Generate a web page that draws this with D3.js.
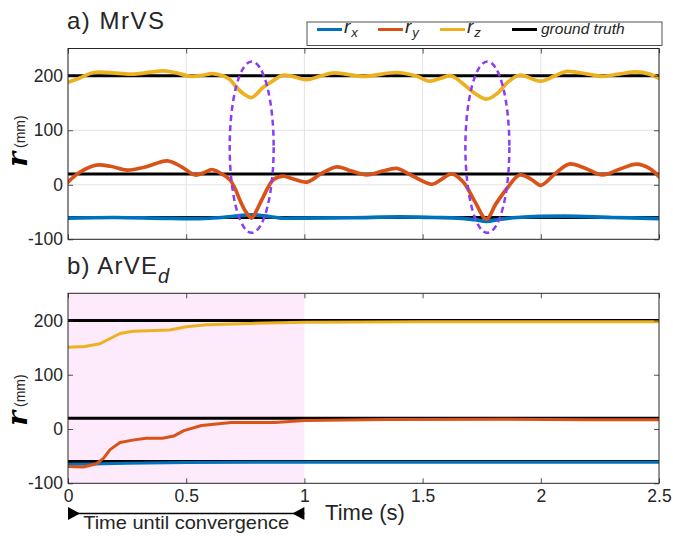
<!DOCTYPE html>
<html>
<head>
<meta charset="utf-8">
<script src="https://cdn.jsdelivr.net/npm/d3@7"></script>
<style>
  body { margin: 0; background: #fff; }
  text { font-family: "Liberation Sans", Arial, Helvetica, sans-serif; fill: #262626; }
</style>
</head>
<body>
<svg id="chart" width="673" height="536"></svg>
<script>
// ---- data ----
const xTicks = [0, 0.5, 1, 1.5, 2, 2.5];
const yTicks = [-100, 0, 100, 200];
const groundTruth = [-60, 20, 200]; // rx, ry, rz (mm)

// panel a) MrVS  [time (s), value (mm)]
const mrvsRx = [[0, -61], [0.2, -60], [0.4, -61.5], [0.55, -62], [0.65, -60], [0.72, -57], [0.777, -55],
  [0.83, -57], [0.9, -61], [1.0, -61], [1.2, -60.5], [1.4, -59], [1.55, -60], [1.65, -61], [1.72, -64],
  [1.77, -67], [1.83, -63], [1.9, -60], [2.1, -57.5], [2.3, -60], [2.5, -62]];
const mrvsRy = [[0, 5], [0.05, 23], [0.12, 36], [0.18, 34], [0.25, 27], [0.33, 33], [0.42, 44], [0.48, 33],
  [0.537, 18], [0.575, 22], [0.608, 28], [0.65, 20], [0.685, 9], [0.71, -10], [0.727, -28], [0.75, -48],
  [0.777, -61], [0.80, -45], [0.826, -22], [0.868, 9], [0.91, 16], [0.95, 11], [1.01, 5], [1.07, 20],
  [1.137, 33], [1.2, 25], [1.264, 18], [1.33, 25], [1.39, 30], [1.45, 18], [1.54, 1], [1.58, 10],
  [1.623, 20], [1.672, 5], [1.72, -30], [1.77, -63], [1.81, -35], [1.86, -5], [1.91, 18], [1.96, 10],
  [2.0, -1], [2.06, 20], [2.12, 38], [2.19, 30], [2.26, 18], [2.33, 28], [2.405, 38], [2.46, 30], [2.5, 15]];
const mrvsRz = [[0, 188], [0.05, 196], [0.11, 206], [0.2, 205], [0.28, 203], [0.4, 209], [0.45, 206],
  [0.52, 199], [0.57, 201], [0.61, 204], [0.66, 199], [0.685, 193], [0.71, 180], [0.745, 166], [0.777, 160],
  [0.826, 179], [0.868, 191], [0.907, 201], [0.95, 199], [1.01, 193], [1.12, 205], [1.25, 199], [1.39, 206],
  [1.47, 200], [1.53, 190], [1.58, 196], [1.62, 200], [1.672, 185], [1.72, 168], [1.77, 157], [1.817, 168],
  [1.86, 188], [1.91, 201], [2.0, 190], [2.06, 200], [2.11, 208], [2.2, 203], [2.26, 199], [2.33, 203],
  [2.40, 207], [2.46, 203], [2.5, 195]];

// panel b) ArVE_d
const arveRx = [[0, -65], [0.1, -64.5], [0.25, -63], [0.5, -61.5], [0.8, -61], [1.5, -61], [2.5, -61]];
const arveRy = [[0, -69], [0.065, -70], [0.12, -64], [0.15, -54], [0.178, -38], [0.22, -25], [0.28, -20],
  [0.33, -17], [0.4, -17], [0.447, -13], [0.49, -3], [0.565, 6.5], [0.69, 12], [0.875, 12], [1.0, 15.5],
  [1.35, 17.5], [1.85, 18], [2.2, 17], [2.5, 17]];
const arveRz = [[0, 150.5], [0.07, 152], [0.135, 157], [0.22, 176], [0.275, 180], [0.43, 182.5],
  [0.5, 188.5], [0.587, 192], [0.77, 194.5], [1.0, 196.5], [1.5, 197.5], [2.5, 197.5]];

// highlighted regions in panel a: centre time, centre value, half-width (s), half-height (mm)
const ellipseT = [0.777, 1.774];
const ellipseV = 69, ellipseDT = 0.093, ellipseDV = 157;
const convergenceEnd = 1.0;

const legendNames = ['x', 'y', 'z', 'ground truth'];
const colors = ['#0072BD', '#D95319', '#EDB120', '#000000'];

// ---- layout ----
const svg = d3.select('#chart');
const x = d3.scaleLinear().domain([0, 2.5]).range([68, 659]);
const ya = d3.scaleLinear().domain([-100, 250]).range([239.3, 48.5]);
const yb = d3.scaleLinear().domain([-100, 250]).range([483.3, 293.3]);

function drawPanel(y, id, grid) {
  const g = svg.append('g');
  const [y0, y1] = y.range();
  svg.append('clipPath').attr('id', id).append('rect')
    .attr('x', x(0)).attr('y', y1).attr('width', x(2.5) - x(0)).attr('height', y0 - y1);
  if (grid) {
    g.selectAll('.vg').data(xTicks).join('line')
      .attr('x1', d => x(d)).attr('x2', d => x(d)).attr('y1', y1).attr('y2', y0)
      .attr('stroke', '#e3e3e3').attr('stroke-width', 1);
    g.selectAll('.hg').data(yTicks).join('line')
      .attr('x1', x(0)).attr('x2', x(2.5)).attr('y1', d => y(d)).attr('y2', d => y(d))
      .attr('stroke', '#e3e3e3').attr('stroke-width', 1);
  }
  return g;
}

function drawAxes(y, labels) {
  const [y0, y1] = y.range();
  const ax = svg.append('g').attr('class', 'axes');
  ax.append('g').attr('transform', `translate(0,${y0})`)
    .call(d3.axisBottom(x).tickValues(xTicks).tickSize(-5).tickPadding(6)
      .tickFormat(labels ? d3.format('~g') : ''));
  ax.append('g').attr('transform', `translate(0,${y1})`)
    .call(d3.axisTop(x).tickValues(xTicks).tickSize(-5).tickFormat(''));
  ax.append('g').attr('transform', `translate(${x(0)},0)`)
    .call(d3.axisLeft(y).tickValues(yTicks).tickSize(-5).tickPadding(5).tickFormat(d => String(d)));
  ax.append('g').attr('transform', `translate(${x(2.5)},0)`)
    .call(d3.axisRight(y).tickValues(yTicks).tickSize(-5).tickFormat(''));
  ax.selectAll('.domain').remove();
  ax.selectAll('.tick line').attr('stroke', '#262626').attr('stroke-width', 0.8);
  ax.selectAll('.tick text').attr('font-size', 17.5).attr('fill', '#262626')
    .attr('font-family', '"Liberation Sans", Arial, sans-serif');
  ax.append('rect').attr('x', x(0)).attr('y', y1).attr('width', x(2.5) - x(0)).attr('height', y0 - y1)
    .attr('fill', 'none').attr('stroke', '#262626').attr('stroke-width', 1);
}

function drawLines(g, y, series, clipId, curve, width) {
  const line = d3.line().x(d => x(d[0])).y(d => y(d[1])).curve(curve);
  const lg = g.append('g').attr('clip-path', `url(#${clipId})`);
  groundTruth.forEach(v => {
    lg.append('line').attr('x1', x(0)).attr('x2', x(2.5)).attr('y1', y(v)).attr('y2', y(v))
      .attr('stroke', '#000').attr('stroke-width', 3);
  });
  series.forEach((s, i) => {
    lg.append('path').datum(s).attr('d', line).attr('fill', 'none')
      .attr('stroke', colors[i]).attr('stroke-width', width)
      .attr('stroke-linejoin', 'round').attr('stroke-linecap', 'round');
  });
}

function yLabel(cy) {
  const t = svg.append('text').attr('transform', `translate(26.5,${cy}) rotate(-90)`)
    .attr('text-anchor', 'middle');
  t.append('tspan').text('r').attr('font-family', '"DejaVu Serif", "Liberation Serif", serif')
    .attr('font-style', 'italic').attr('font-weight', 'bold').attr('font-size', 28).attr('fill', '#000');
  t.append('tspan').text(' (mm)').attr('font-size', 14).attr('dy', -2);
}

// ---- panel a ----
const ga = drawPanel(ya, 'clipA', true);
drawLines(ga, ya, [mrvsRx, mrvsRy, mrvsRz], 'clipA', d3.curveCatmullRom, 3.7);
ga.selectAll('ellipse').data(ellipseT).join('ellipse')
  .attr('cx', d => x(d)).attr('cy', ya(ellipseV))
  .attr('rx', d => x(d + ellipseDT) - x(d)).attr('ry', ya(ellipseV) - ya(ellipseV + ellipseDV))
  .attr('fill', 'none').attr('stroke', '#8B3DF5').attr('stroke-width', 2.5).attr('stroke-dasharray', '6,4');
drawAxes(ya, false);
yLabel(141);

svg.append('text').attr('x', 67).attr('y', 29).attr('font-size', 24).attr('letter-spacing', 1.5)
  .attr('fill', '#000').text('a) MrVS');

// legend
const leg = svg.append('g');
leg.append('rect').attr('x', 307).attr('y', 22).attr('width', 355).attr('height', 23.5)
  .attr('fill', '#fff').attr('stroke', '#262626').attr('stroke-width', 0.8);
const legX = [317, 378, 440, 512];
legendNames.forEach((n, i) => {
  leg.append('line').attr('x1', legX[i]).attr('x2', legX[i] + 25).attr('y1', 29.5).attr('y2', 29.5)
    .attr('stroke', colors[i]).attr('stroke-width', 3);
  if (i < 3) {
    const t = leg.append('text').attr('x', legX[i] + 27).attr('y', 33)
      .attr('font-family', '"Liberation Serif", "Times New Roman", serif').attr('font-style', 'italic')
      .attr('fill', '#000');
    t.append('tspan').text('r').attr('font-size', 19);
    t.append('tspan').text(n).attr('font-size', 13).attr('dy', 4).attr('dx', 1);
  } else {
    leg.append('text').attr('x', legX[i] + 29).attr('y', 33.5).attr('font-size', 15.5)
      .attr('font-style', 'italic').attr('fill', '#000').text(n);
  }
});

// ---- panel b ----
const gb = drawPanel(yb, 'clipB', false);
gb.append('rect').attr('x', x(0)).attr('y', yb(250)).attr('width', x(convergenceEnd) - x(0))
  .attr('height', yb(-100) - yb(250)).attr('fill', '#fdeafb');
drawLines(gb, yb, [arveRx, arveRy, arveRz], 'clipB', d3.curveLinear, 3);
drawAxes(yb, true);
yLabel(400);

const tb = svg.append('text').attr('x', 67).attr('y', 273.5).attr('font-size', 24)
  .attr('letter-spacing', 1.2).attr('fill', '#000');
tb.append('tspan').text('b) ArVE');
tb.append('tspan').text('d').attr('font-style', 'italic').attr('font-size', 20).attr('dy', 9);

// x label
svg.append('text').attr('x', 365).attr('y', 520).attr('text-anchor', 'middle').attr('font-size', 22)
  .text('Time (s)');

// convergence marker
const ay = 513.5;
svg.append('line').attr('x1', x(0)).attr('x2', x(convergenceEnd)).attr('y1', ay).attr('y2', ay)
  .attr('stroke', '#000').attr('stroke-width', 1.5);
svg.append('path').attr('d', `M${x(0)},${ay - 6.5}L${x(0) + 12},${ay}L${x(0)},${ay + 6.5}Z`).attr('fill', '#000');
svg.append('path').attr('d', `M${x(convergenceEnd)},${ay - 6.5}L${x(convergenceEnd) - 12},${ay}L${x(convergenceEnd)},${ay + 6.5}Z`)
  .attr('fill', '#000');
svg.append('text').attr('x', (x(0) + x(convergenceEnd)) / 2).attr('y', 529).attr('text-anchor', 'middle')
  .attr('font-size', 19).attr('textLength', 206).attr('lengthAdjust', 'spacingAndGlyphs')
  .text('Time until convergence');
</script>
</body>
</html>
